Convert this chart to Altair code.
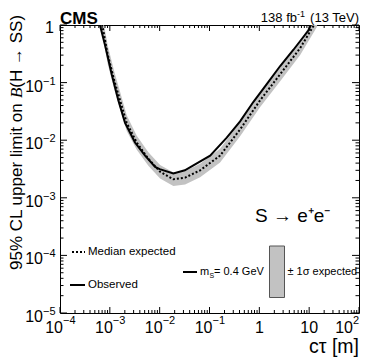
import altair as alt
import pandas as pd

# ---- data ----
ct_obs = [6.0e-4, 6.35e-4, 8.0e-4, 1.09e-3, 1.48e-3, 2.02e-3, 3.2e-3, 5.1e-3, 8.1e-3, 1.0e-2,
          1.88e-2, 3.2e-2, 4.75e-2, 0.103, 0.222, 0.411, 0.762, 1.42, 2.62, 4.84, 9.7, 10.8, 12.0]
obs = [1.2, 0.99, 0.45, 0.14, 0.0495, 0.020, 9.1e-3, 5.4e-3, 3.45e-3, 3.15e-3,
       2.65e-3, 3.0e-3, 3.67e-3, 5.4e-3, 0.0111, 0.0212, 0.0464, 0.095, 0.194, 0.372, 0.81, 1.0, 1.19]

ct_exp = [6.65e-4, 7.06e-4, 9.08e-4, 1.23e-3, 1.60e-3, 2.18e-3, 3.47e-3, 5.93e-3, 1.02e-2, 1.88e-2,
          3.24e-2, 6.48e-2, 0.163, 0.411, 1.04, 2.62, 6.6, 11.3, 14.4]
exp_med = [1.2, 0.99, 0.306, 0.108, 0.0495, 0.020, 9.1e-3, 4.76e-3, 2.84e-3, 2.1e-3,
           2.24e-3, 3.0e-3, 5.4e-3, 0.0154, 0.0495, 0.140, 0.397, 0.865, 1.22]
exp_hi = [1.75, 1.45, 0.44, 0.155, 0.07, 0.027, 0.0120, 6.2e-3, 3.7e-3, 2.75e-3,
          2.93e-3, 3.9e-3, 7.1e-3, 0.0205, 0.066, 0.185, 0.52, 1.13, 1.6]
exp_lo = [0.83, 0.69, 0.21, 0.075, 0.035, 0.0145, 6.8e-3, 3.6e-3, 2.16e-3, 1.6e-3,
          1.7e-3, 2.28e-3, 4.1e-3, 0.0117, 0.0376, 0.106, 0.30, 0.66, 0.93]

x_exp_ticks = [1e-4, 1e-3, 1e-2, 1e-1]
x_exp_labels = ["\u22124", "\u22123", "\u22122", "\u22121"]
x_plain_ticks = [1, 10]
x_plain_labels = ["1", "10"]
y_exp_ticks = [1e-5, 1e-4, 1e-3, 1e-2, 1e-1]
y_exp_labels = ["\u22125", "\u22124", "\u22123", "\u22122", "\u22121"]

W, H = 299, 288
FONT = "Liberation Sans"

x_major = [10.0 ** d for d in range(-4, 3)]
x_minor = [m * 10.0 ** d for d in range(-4, 2) for m in range(2, 10)]
y_major = [10.0 ** d for d in range(-5, 1)]
y_minor = [m * 10.0 ** d for d in range(-5, 0) for m in range(2, 10)]

xs = alt.Scale(type="log", domain=[1e-4, 1e2], nice=False)
ys = alt.Scale(type="log", domain=[1e-5, 1], nice=False)
X = lambda f: alt.X(f, type="quantitative", scale=xs, axis=None)
Y = lambda f: alt.Y(f, type="quantitative", scale=ys, axis=None)

df_obs = pd.DataFrame({"ct": ct_obs, "lim": obs})
df_exp = pd.DataFrame({"ct": ct_exp, "med": exp_med, "lo": exp_lo, "hi": exp_hi})
one = alt.Data(values=[{}])

band = alt.Chart(df_exp).mark_area(color="#c2c2c2", clip=True).encode(
    x=X("ct"), y=Y("lo"), y2="hi:Q")
exp_line = alt.Chart(df_exp).mark_line(color="black", strokeWidth=2, strokeDash=[2, 2], clip=True).encode(
    x=X("ct"), y=Y("med"))
obs_line = alt.Chart(df_obs).mark_line(color="black", strokeWidth=2, clip=True).encode(
    x=X("ct"), y=Y("lim"))

layers = [band, exp_line, obs_line]

# ticks (inside, all four sides)
def xticks(vals, ln):
    d = pd.DataFrame({"v": vals})
    b = alt.Chart(d).mark_rule(color="black", strokeWidth=1).encode(
        x=X("v"), y=alt.value(H), y2=alt.value(H - ln))
    t = alt.Chart(d).mark_rule(color="black", strokeWidth=1).encode(
        x=X("v"), y=alt.value(0), y2=alt.value(ln))
    return [b, t]

def yticks(vals, ln):
    d = pd.DataFrame({"v": vals})
    l = alt.Chart(d).mark_rule(color="black", strokeWidth=1).encode(
        y=Y("v"), x=alt.value(0), x2=alt.value(ln))
    r = alt.Chart(d).mark_rule(color="black", strokeWidth=1).encode(
        y=Y("v"), x=alt.value(W), x2=alt.value(W - ln))
    return [l, r]

layers += xticks(x_major, 6) + xticks(x_minor, 3) + yticks(y_major, 7) + yticks(y_minor, 3.5)

# x tick labels
dxe = pd.DataFrame({"v": x_exp_ticks, "e": x_exp_labels})
layers.append(alt.Chart(dxe).mark_text(font=FONT, fontSize=16, align="right", baseline="alphabetic", dx=3).encode(
    x=X("v"), y=alt.value(H + 20), text=alt.value("10")))
layers.append(alt.Chart(dxe).mark_text(font=FONT, fontSize=11, align="left", baseline="alphabetic", dx=3).encode(
    x=X("v"), y=alt.value(H + 11), text="e:N"))
dxp = pd.DataFrame({"v": x_plain_ticks, "t": x_plain_labels})
layers.append(alt.Chart(dxp).mark_text(font=FONT, fontSize=16, align="center", baseline="alphabetic").encode(
    x=X("v"), y=alt.value(H + 20), text="t:N"))
dx2 = pd.DataFrame({"v": [100.0], "e": ["2"]})
layers.append(alt.Chart(dx2).mark_text(font=FONT, fontSize=16, align="right", baseline="alphabetic", dx=-6).encode(
    x=X("v"), y=alt.value(H + 20), text=alt.value("10")))
layers.append(alt.Chart(dx2).mark_text(font=FONT, fontSize=11, align="left", baseline="alphabetic", dx=-6).encode(
    x=X("v"), y=alt.value(H + 11), text="e:N"))

# y tick labels
dye = pd.DataFrame({"v": y_exp_ticks, "e": y_exp_labels})
layers.append(alt.Chart(dye).mark_text(font=FONT, fontSize=16, align="right", baseline="alphabetic", dy=9).encode(
    y=Y("v"), x=alt.value(-17), text=alt.value("10")))
layers.append(alt.Chart(dye).mark_text(font=FONT, fontSize=11, align="left", baseline="alphabetic", dy=2).encode(
    y=Y("v"), x=alt.value(-17), text="e:N"))
dy1 = pd.DataFrame({"v": [1.0], "t": ["1"]})
layers.append(alt.Chart(dy1).mark_text(font=FONT, fontSize=16, align="right", baseline="alphabetic", dy=8).encode(
    y=Y("v"), x=alt.value(-6), text="t:N"))

def txt(s, x, y, size, align="left", baseline="alphabetic", font=FONT, **kw):
    return alt.Chart(one).mark_text(text=s, font=font, fontSize=size, align=align,
                                    baseline=baseline, **kw).encode(x=alt.value(x), y=alt.value(y))

# titles
layers.append(txt("c\u03c4 [m]", W, H + 40, 19.5, align="right"))
ytb = 245
f = 17
w1 = 10.115 * f
wB = 0.611 * f
yx = -43.5
layers.append(txt("95% CL upper limit on ", yx, ytb, f, baseline="middle", angle=270))
layers.append(alt.Chart(one).mark_text(text="B", font="Liberation Serif", fontStyle="italic", fontSize=f,
                                       align="left", baseline="middle", angle=270).encode(
    x=alt.value(yx), y=alt.value(ytb - w1)))
layers.append(txt("(H \u2192 SS)", yx, ytb - w1 - wB, f, baseline="middle", angle=270))

layers.append(alt.Chart(one).mark_text(text="CMS", font=FONT, fontSize=17, fontWeight="bold",
                                       align="left", baseline="alphabetic").encode(
    x=alt.value(0), y=alt.value(-1)))
layers.append(txt(" (13 TeV)", W, -3, 13, align="right"))
layers.append(txt("-1", W - 54, -8, 9, align="right"))
layers.append(txt("138 fb", W - 62, -3, 13, align="right"))

# process label
layers.append(txt("S \u2192 e\u207ae\u207b", 195, 197, 19))

# legend
layers.append(alt.Chart(one).mark_rule(color="black", strokeWidth=2, strokeDash=[2, 2]).encode(
    x=alt.value(12), x2=alt.value(25), y=alt.value(227)))
layers.append(txt("Median expected", 28, 227, 11.5, baseline="middle"))
layers.append(alt.Chart(one).mark_rule(color="black", strokeWidth=2).encode(
    x=alt.value(10), x2=alt.value(25), y=alt.value(260)))
layers.append(txt("Observed", 28, 260, 11.5, baseline="middle"))
layers.append(alt.Chart(one).mark_rule(color="black", strokeWidth=2).encode(
    x=alt.value(123), x2=alt.value(137), y=alt.value(247)))
layers.append(txt("m", 140, 247, 11, baseline="middle"))
layers.append(txt("S", 149.5, 250.5, 7, baseline="middle"))
layers.append(txt(" = 0.4 GeV", 154, 247, 11, baseline="middle"))
layers.append(alt.Chart(one).mark_rect(fill="#c2c2c2", stroke="#555555", strokeWidth=1).encode(
    x=alt.value(209.5), x2=alt.value(224.5), y=alt.value(221), y2=alt.value(272.5)))
layers.append(txt("\u00b1 1\u03c3 expected", 227.5, 247, 11, baseline="middle"))

chart = alt.layer(*layers).properties(
    width=W, height=H,
    autosize=alt.AutoSizeParams(type="none"),
    padding={"left": 52, "top": 17, "right": 5, "bottom": 45},
).configure_view(stroke="black", strokeWidth=1)

chart.save("out.html", embed_options={"renderer": "svg", "actions": False})
